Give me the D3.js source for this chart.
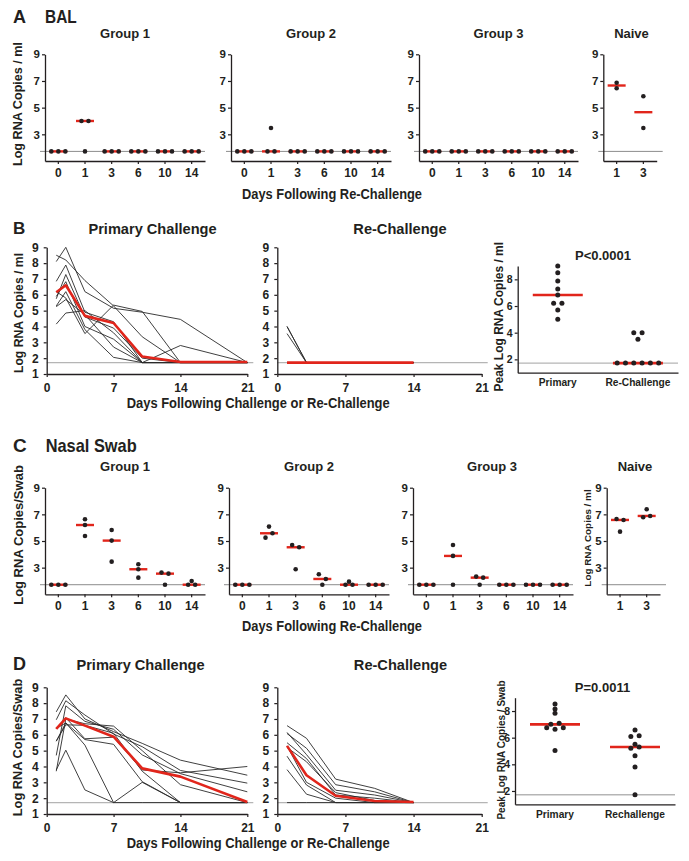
<!DOCTYPE html>
<html><head><meta charset="utf-8">
<script src="https://cdn.jsdelivr.net/npm/d3@7"></script>
<style>
body{margin:0;background:#fff}
svg text{font-family:"Liberation Sans",Arial,Helvetica,sans-serif;font-weight:bold;fill:#231f20}
</style></head><body><svg id="c" width="689" height="861"></svg>
<script>
// ---------------- DATA ----------------
const LOD = 1.72;
const L = LOD;
const groupDays = ["0", "1", "3", "6", "10", "14"];
const naiveDays = ["1", "3"];
const yTicksGroup = [3, 5, 7, 9];
const yTicksLine = [1, 2, 3, 4, 5, 6, 7, 8, 9];
const xTicksLine = [0, 7, 14, 21];
const yTicksPeak = [2, 4, 6, 8];

// Panel A  BAL (values per day, one value per animal)
const balGroup1 = [[L, L, L], [4.0, L, 4.0], [L, L, L], [L, L, L], [L, L, L], [L, L, L]];
const balGroup2 = [[L, L, L], [L, 3.47, L], [L, L, L], [L, L, L], [L, L, L], [L, L, L]];
const balGroup3 = [[L, L, L], [L, L, L], [L, L, L], [L, L, L], [L, L, L], [L, L, L]];
const balNaive = [[6.87, 6.45], [5.85, 3.47]];

// Panel B  BAL time courses
const primaryDays = [1, 2, 4, 7, 10, 14, 21];
const rechallengeDays = [1, 3, 6, 10, 14];
const bPrimaryAnimals = [
  [8.1, 9.0, 6.2, 5.15, 4.9, 4.45, L],
  [8.5, 8.2, 6.9, 5.3, 3.35, L, L],
  [6.85, 7.88, 4.9, 4.3, L, L, L],
  [5.75, 7.28, 4.6, 3.9, 2.0, L, L],
  [5.9, 6.83, 4.0, 3.2, L, 2.8, L],
  [6.2, 5.8, 3.55, 5.35, 4.95, L, L],
  [5.3, 6.2, 3.8, 2.05, L, L, L],
  [5.25, 5.7, 4.75, 2.7, L, L, L],
  [4.15, 4.85, 5.0, 3.6, L, L, L]
];
const bPrimaryMedian = [6.16, 6.6, 4.67, 4.22, 2.1, 1.76, 1.76];
const bRechallengeAnimals = [
  [4.0, L, L, L, L], [4.0, L, L, L, L], [3.55, L, L, L, L],
  [L, L, L, L, L], [L, L, L, L, L], [L, L, L, L, L],
  [L, L, L, L, L], [L, L, L, L, L], [L, L, L, L, L]
];
const bRechallengeMedian = [L, L, L, L, L];
const bPeakCats = ["Primary", "Re-Challenge"];
const bPeakPrimary = [9.0, 8.5, 7.88, 7.28, 6.83, 6.2, 6.2, 5.7, 5.0];
const bPeakRechallenge = [L, L, L, 4.0, 3.5, 4.0, L, L, L];

// Panel C  Nasal swab
const nasalGroup1 = [[L, L, L], [6.63, 6.2, 5.38], [5.83, 5.03, 3.45], [3.25, 2.88, 2.25], [2.63, L, 2.55], [L, 2.0, L]];
const nasalGroup2 = [[L, L, L], [5.25, 6.08, 5.58], [4.7, 2.88, 4.53], [2.5, L, 2.15], [L, 1.95, L], [L, L, L]];
const nasalGroup3 = [[L, L, L], [4.7, 3.88, L], [2.33, L, 2.25], [L, L, L], [L, L, L], [L, L, L]];
const nasalNaive = [[6.65, 5.7, 6.58], [6.78, 7.38, 6.88]];

// Panel D  Nasal swab time courses
const dPrimaryAnimals = [
  [7.45, 8.52, 7.0, 6.2, 5.46, 4.4, 3.45],
  [6.95, 8.15, 7.25, 6.05, 5.25, 3.75, 2.95],
  [4.7, 7.83, 6.85, 6.35, 4.73, 3.55, 2.4],
  [6.4, 7.08, 5.75, 5.85, 3.78, 3.6, 4.0],
  [3.7, 7.0, 6.7, 6.55, 5.0, 2.85, L],
  [5.6, 6.75, 5.35, L, 3.0, L, L],
  [6.4, 6.75, 5.7, 5.4, 3.04, L, L],
  [5.6, 6.63, 6.6, 6.1, 3.7, L, L],
  [3.78, 5.03, 2.52, L, L, L, L]
];
const dPrimaryMedian = [6.37, 7.04, 6.58, 5.88, 3.88, 3.36, 1.76];
const dRechallengeAnimals = [
  [6.58, 5.78, 3.2, 2.62, L],
  [6.15, 4.75, 2.5, 2.2, L],
  [6.08, 5.15, 2.85, 2.4, L],
  [5.5, 4.5, 2.2, 2.0, L],
  [5.3, 3.0, 2.0, L, L],
  [5.2, 4.3, 2.35, 1.85, L],
  [4.65, 2.83, L, L, L],
  [3.8, 2.25, L, L, L],
  [L, L, L, L, L]
];
const dRechallengeMedian = [5.3, 3.45, 2.15, 1.82, 1.76];
const dPeakCats = ["Primary", "Rechallenge"];
const dPeakPrimary = [7.0, 8.52, 8.15, 7.83, 6.75, 7.08, 6.63, 6.75, 5.03];
const dPeakRechallenge = [6.58, 6.08, 6.15, 5.5, 5.2, 5.3, 4.65, 3.8, L];

// ---------------- DRAWING ----------------
const RED = "#e1251b", INK = "#231f20";
const NARROW = '"Liberation Sans Narrow","Arial Narrow","Liberation Sans",Arial,sans-serif';
const svg = d3.select("#c");

function txt(str, x, y, size, o = {}) {
  const t = svg.append("text").attr("x", x).attr("y", y).attr("font-size", size).text(str);
  if (o.anchor) t.attr("text-anchor", o.anchor);
  if (o.rotate) t.attr("transform", `rotate(-90 ${x} ${y})`).attr("dy", "0.35em");
  if (o.width) t.attr("textLength", o.width).attr("lengthAdjust", "spacingAndGlyphs");
  if (o.family) t.style("font-family", o.family);
  return t;
}
function styleAxis(a, size) {
  a.attr("font-family", null).attr("font-size", size);
  a.select(".domain").attr("stroke", INK).attr("stroke-width", 1.3);
  a.selectAll(".tick line").attr("stroke", INK).attr("stroke-width", 1.2);
}
// symmetric spread of points that sit at (almost) the same height
function swarm(vals, y, s, rowGap, pairGap) {
  const idx = vals.map((v, i) => i).sort((a, b) => vals[a] - vals[b]);
  const rows = [];
  idx.forEach(i => {
    const last = rows[rows.length - 1];
    if (last && Math.abs(y(vals[i]) - y(vals[last[last.length - 1]])) < rowGap) last.push(i);
    else rows.push([i]);
  });
  const merged = [];
  for (let k = 0; k < rows.length; k++) {
    if (rows[k].length === 1 && rows[k + 1] && rows[k + 1].length === 1 &&
        Math.abs(y(vals[rows[k][0]]) - y(vals[rows[k + 1][0]])) < pairGap) {
      merged.push([rows[k][0], rows[k + 1][0]]); k++;
    } else merged.push(rows[k]);
  }
  const off = new Array(vals.length).fill(0);
  merged.forEach(r => { r.sort((a, b) => a - b); r.forEach((i, j) => off[i] = (j - (r.length - 1) / 2) * s); });
  return off;
}

function dotPlot(cfg, days, data) {
  const g = svg.append("g");
  const x = d3.scaleBand().domain(days).range([cfg.x0, cfg.x1]);
  const y = d3.scaleLinear().domain([1, 9]).range([cfg.yb, cfg.yt]);
  g.append("line").attr("x1", cfg.x0 - 5).attr("x2", cfg.x1 + (cfg.ext || 0))
    .attr("y1", y(LOD)).attr("y2", y(LOD)).attr("stroke", "#8c8c8c").attr("stroke-width", 1);
  const ya = g.append("g").attr("transform", `translate(${cfg.x0},0)`)
    .call(d3.axisLeft(y).tickValues(yTicksGroup).tickSize(3).tickSizeOuter(0).tickPadding(2).tickFormat(d3.format("d")));
  const xa = g.append("g").attr("transform", `translate(0,${cfg.yb})`)
    .call(d3.axisBottom(x).tickSize(3).tickSizeOuter(0).tickPadding(4));
  styleAxis(ya, 11.5); styleAxis(xa, 12);
  data.forEach((vals, i) => {
    const cx = x(days[i]) + x.bandwidth() / 2, m = d3.median(vals);
    g.append("line").attr("x1", cx - 9).attr("x2", cx + 9).attr("y1", y(m)).attr("y2", y(m))
      .attr("stroke", RED).attr("stroke-width", 2.4);
  });
  data.forEach((vals, i) => {
    const cx = x(days[i]) + x.bandwidth() / 2, off = swarm(vals, y, 7, 2, 4.8);
    vals.forEach((v, j) => g.append("circle").attr("cx", cx + off[j]).attr("cy", y(v)).attr("r", 2.3).attr("fill", INK));
  });
}

function linePlot(cfg, days, animals, median) {
  const g = svg.append("g");
  const x = d3.scaleLinear().domain([0, 21]).range([cfg.x0, cfg.x1]);
  const y = d3.scaleLinear().domain([1, 9]).range([cfg.yb, cfg.yt]);
  g.append("line").attr("x1", cfg.x0).attr("x2", cfg.x1 + 6).attr("y1", y(LOD)).attr("y2", y(LOD))
    .attr("stroke", "#b5b5b5").attr("stroke-width", 1.4);
  const ya = g.append("g").attr("transform", `translate(${cfg.x0},0)`)
    .call(d3.axisLeft(y).tickValues(yTicksLine).tickSize(3).tickSizeOuter(0).tickPadding(5).tickFormat(d3.format("d")));
  const xa = g.append("g").attr("transform", `translate(0,${cfg.yb})`)
    .call(d3.axisBottom(x).tickValues(xTicksLine).tickSize(3).tickSizeOuter(0).tickPadding(6));
  styleAxis(ya, 12); styleAxis(xa, 12);
  const line = d3.line().x((d, i) => x(days[i])).y(d => y(d));
  animals.forEach(a => g.append("path").attr("d", line(a)).attr("fill", "none").attr("stroke", "#2a2a2a").attr("stroke-width", 0.9));
  g.append("path").attr("d", line(median)).attr("fill", "none").attr("stroke", RED).attr("stroke-width", 2.6).attr("stroke-linejoin", "round");
}

function peakPlot(cfg, cats, groups) {
  const g = svg.append("g");
  const x = d3.scaleBand().domain(cats).range([cfg.x0, cfg.x1]);
  const y = d3.scaleLinear().domain([1, 9]).range([cfg.yb, cfg.yt]);
  g.append("line").attr("x1", cfg.x0).attr("x2", cfg.x1).attr("y1", y(LOD)).attr("y2", y(LOD))
    .attr("stroke", "#b5b5b5").attr("stroke-width", 1.4);
  const ya = g.append("g").attr("transform", `translate(${cfg.x0},0)`)
    .call(d3.axisLeft(y).tickValues(yTicksPeak).tickSize(3).tickSizeOuter(0).tickPadding(2).tickFormat(d3.format("d")));
  const xa = g.append("g").attr("transform", `translate(0,${cfg.yb})`)
    .call(d3.axisBottom(x).tickSize(0).tickSizeOuter(0).tickPadding(6));
  styleAxis(ya, 10.5); styleAxis(xa, 10.2);
  groups.forEach((vals, i) => {
    const cx = x(cats[i]) + x.bandwidth() / 2, m = d3.median(vals);
    g.append("line").attr("x1", cx - 25).attr("x2", cx + 25).attr("y1", y(m)).attr("y2", y(m))
      .attr("stroke", RED).attr("stroke-width", 2.6);
  });
  groups.forEach((vals, i) => {
    const cx = x(cats[i]) + x.bandwidth() / 2, off = swarm(vals, y, 8.3, 2, 3.5);
    vals.forEach((v, j) => g.append("circle").attr("cx", cx + off[j]).attr("cy", y(v)).attr("r", 2.5).attr("fill", INK));
  });
}

// ---- Panel A ----
txt("A", 13, 22.7, 18, { family: NARROW });
txt("BAL", 45, 22.7, 18, { family: NARROW, width: 31.7 });
[["Group 1", 125], ["Group 2", 311], ["Group 3", 498.5], ["Naive", 631.5]].forEach(d => txt(d[0], d[1], 37.5, 13, { anchor: "middle" }));
dotPlot({ x0: 45, x1: 205, yt: 54.3, yb: 161 }, groupDays, balGroup1);
dotPlot({ x0: 231, x1: 391, yt: 54.3, yb: 161 }, groupDays, balGroup2);
dotPlot({ x0: 419, x1: 578, yt: 54.3, yb: 161 }, groupDays, balGroup3);
dotPlot({ x0: 603.3, x1: 656.7, yt: 54.3, yb: 161, ext: 6 }, naiveDays, balNaive);
txt("Log RNA Copies / ml", 18, 104, 12.6, { anchor: "middle", rotate: true });
txt("Days Following Re-Challenge", 242, 198.5, 14.5, { family: NARROW, width: 180 });

// ---- Panel B ----
txt("B", 13, 234.3, 17, { family: NARROW });
txt("Primary Challenge", 152.5, 233.7, 14.6, { anchor: "middle" });
txt("Re-Challenge", 400, 233.7, 14.6, { anchor: "middle" });
linePlot({ x0: 46.7, x1: 247.3, yt: 247.3, yb: 374 }, primaryDays, bPrimaryAnimals, bPrimaryMedian);
linePlot({ x0: 277.3, x1: 481.7, yt: 247.3, yb: 374 }, rechallengeDays, bRechallengeAnimals, bRechallengeMedian);
txt("Log RNA Copies / ml", 18.3, 313, 12.2, { anchor: "middle", rotate: true });
txt("Days Following Challenge or Re-Challenge", 126.7, 407.5, 15, { family: NARROW, width: 263 });
peakPlot({ x0: 517.7, x1: 678, yt: 266, yb: 372.7 }, bPeakCats, [bPeakPrimary, bPeakRechallenge]);
txt("P<0.0001", 603, 260, 13, { anchor: "middle" });
txt("Peak Log RNA Copies / ml", 499, 316.7, 12, { anchor: "middle", rotate: true });

// ---- Panel C ----
txt("C", 13, 451.7, 19, { family: NARROW });
txt("Nasal Swab", 45.7, 451.7, 19, { family: NARROW, width: 91 });
[["Group 1", 125], ["Group 2", 309], ["Group 3", 492], ["Naive", 635]].forEach(d => txt(d[0], d[1], 470.5, 13, { anchor: "middle" }));
dotPlot({ x0: 45, x1: 205, yt: 487.7, yb: 594.3 }, groupDays, nasalGroup1);
dotPlot({ x0: 229, x1: 389, yt: 487.7, yb: 594.3 }, groupDays, nasalGroup2);
dotPlot({ x0: 413, x1: 573, yt: 487.7, yb: 594.3 }, groupDays, nasalGroup3);
dotPlot({ x0: 606.7, x1: 660, yt: 487.7, yb: 594.3, ext: 6 }, naiveDays, nasalNaive);
txt("Log RNA Copies/Swab", 18, 535, 13, { anchor: "middle", rotate: true });
txt("Log RNA Copies / ml", 588, 538, 9.9, { anchor: "middle", rotate: true });
txt("Days Following Re-Challenge", 242, 630.5, 14.5, { family: NARROW, width: 180 });

// ---- Panel D ----
txt("D", 13, 670, 18, { family: NARROW });
txt("Primary Challenge", 140.5, 669.5, 14.6, { anchor: "middle" });
txt("Re-Challenge", 400.5, 669.5, 14.6, { anchor: "middle" });
linePlot({ x0: 46.7, x1: 247.3, yt: 687.3, yb: 814 }, primaryDays, dPrimaryAnimals, dPrimaryMedian);
linePlot({ x0: 277.3, x1: 481.7, yt: 687.3, yb: 814 }, rechallengeDays, dRechallengeAnimals, dRechallengeMedian);
txt("Log RNA Copies/Swab", 18, 747.5, 12.8, { anchor: "middle", rotate: true });
txt("Days Following Challenge or Re-Challenge", 126.7, 847.5, 15, { family: NARROW, width: 263 });
peakPlot({ x0: 515, x1: 675, yt: 697.7, yb: 804.3 }, dPeakCats, [dPeakPrimary, dPeakRechallenge]);
txt("P=0.0011", 602.5, 692.3, 13, { anchor: "middle" });
txt("Peak Log RNA Copies / Swab", 501.7, 750, 10, { anchor: "middle", rotate: true });
</script></body></html>
